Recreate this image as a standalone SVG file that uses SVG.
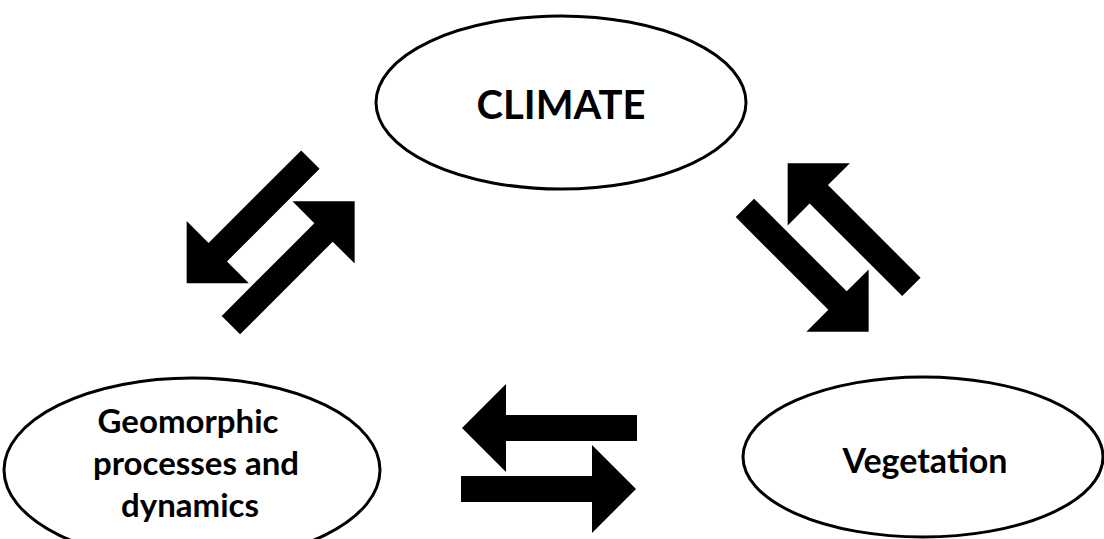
<svg xmlns="http://www.w3.org/2000/svg" width="1104" height="539" viewBox="0 0 1104 539">
  <style>
    .node ellipse { fill: #ffffff; stroke: #000000; stroke-width: 3; }
    .label { font-family: Lato, "Liberation Sans", sans-serif; font-weight: 700; fill: #000000; text-anchor: middle; }
    .arrow { fill: #000000; }
  </style>
  <defs>
    <path id="blockArrow" d="M0,-13 L131,-13 L131,-44 L175,0 L131,44 L131,13 L0,13 Z"/>
  </defs>
  <rect width="1104" height="539" fill="#ffffff"/>
  <g id="climate" class="node">
    <ellipse cx="561" cy="102.5" rx="185" ry="86.5"/>
    <text class="label" x="561" y="119" font-size="40">CLIMATE</text>
  </g>
  <g id="geomorphic" class="node">
    <ellipse cx="192" cy="470" rx="188" ry="92"/>
    <text class="label" x="188" y="433" font-size="33">Geomorphic</text>
    <text class="label" x="196" y="475" font-size="33">processes and</text>
    <text class="label" x="190" y="517" font-size="33">dynamics</text>
  </g>
  <g id="vegetation" class="node">
    <ellipse cx="923" cy="457" rx="180" ry="80"/>
    <text class="label" x="925" y="473" font-size="34">Vegetation</text>
  </g>
  <g id="connectors" class="arrow">
    <use href="#blockArrow" transform="translate(310.4,159.6) rotate(135)"/>
    <use href="#blockArrow" transform="translate(230.9,325.1) rotate(-45)"/>
    <use href="#blockArrow" transform="translate(911.4,286.9) rotate(-135)"/>
    <use href="#blockArrow" transform="translate(744.9,207.9) rotate(45)"/>
    <use href="#blockArrow" transform="translate(637,428) rotate(180)"/>
    <use href="#blockArrow" transform="translate(461,489)"/>
  </g>
</svg>
